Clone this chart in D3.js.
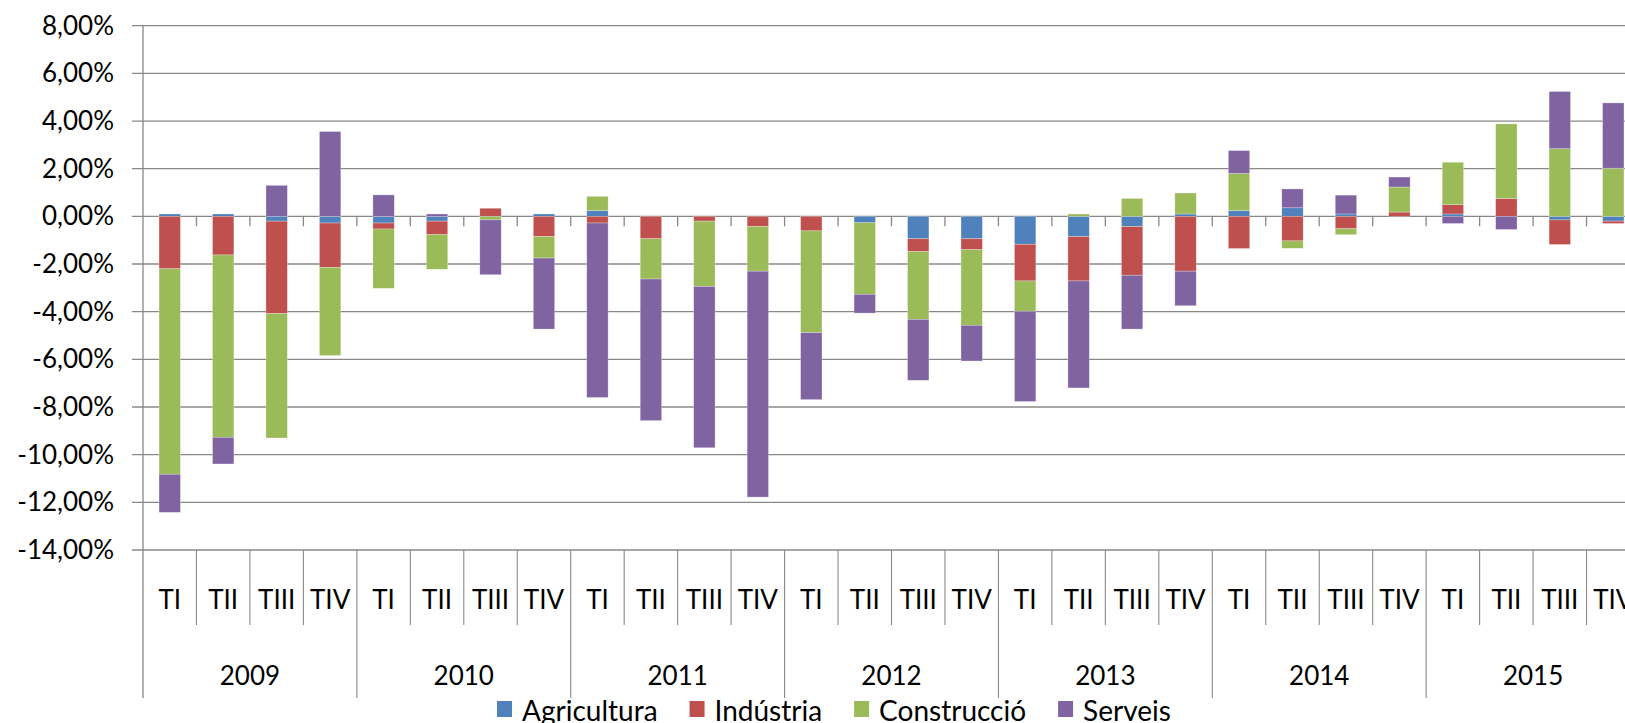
<!DOCTYPE html>
<html>
<head>
<meta charset="utf-8">
<script src="https://cdn.jsdelivr.net/npm/d3@7"></script>
<style>
  body { margin: 0; background: #fff; }
  svg { display: block; }
  text { font-family: Lato, "Open Sans", sans-serif; fill: #000; }
</style>
</head>
<body>
<svg id="chart" width="1625" height="723"></svg>
<script>
// values, % change by quarter
var years = ['2009', '2010', '2011', '2012', '2013', '2014', '2015'];
var quarters = ['TI', 'TII', 'TIII', 'TIV'];
var yTicks = [8, 6, 4, 2, 0, -2, -4, -6, -8, -10, -12, -14];
var seriesNames = ['Agricultura', 'Indústria', 'Construcció', 'Serveis'];
var seriesColors = ['#4F81BD', '#C0504D', '#9BBB59', '#8064A2'];

var agricultura = [0.1, 0.1, -0.2, -0.28,  -0.28, -0.2, 0, 0.1,  0.24, 0, 0, 0,
  0, -0.27, -0.94, -0.94,  -1.17, -0.85, -0.43, 0.1,  0.24, 0.36, 0.1, 0,  0.1, 0, -0.15, -0.2];
var industria = [-2.2, -1.62, -3.88, -1.86,  -0.25, -0.57, 0.34, -0.85,  -0.28, -0.94, -0.2, -0.43,
  -0.61, 0, -0.54, -0.46,  -1.54, -1.86, -2.04, -2.3,  -1.35, -1.03, -0.52, 0.18,  0.39, 0.75, -1.03, -0.1];
var construccio = [-8.62, -7.65, -5.22, -3.7,  -2.49, -1.45, -0.15, -0.9,  0.6, -1.69, -2.74, -1.87,
  -4.27, -3.0, -2.84, -3.17,  -1.27, 0.1, 0.75, 0.88,  1.56, -0.31, -0.25, 1.05,  1.78, 3.13, 2.84, 2.02];
var serveis = [-1.6, -1.12, 1.3, 3.56,  0.9, 0.1, -2.3, -2.98,  -7.32, -5.94, -6.77, -9.48,
  -2.81, -0.79, -2.56, -1.5,  -3.79, -4.49, -2.26, -1.45,  0.96, 0.79, 0.79, 0.42,  -0.3, -0.55, 2.4, 2.74];

var rows = [];
years.forEach(function(yr, yi) {
  quarters.forEach(function(q, qi) {
    var i = yi * 4 + qi;
    rows.push({ i: i, year: yr, q: q,
      'Agricultura': agricultura[i], 'Indústria': industria[i],
      'Construcció': construccio[i], 'Serveis': serveis[i] });
  });
});

var svg = d3.select('#chart');
var plotLeft = 143, plotRight = 1640, plotTop = 25.7, plotBottom = 550;

var x = d3.scaleBand().domain(rows.map(function(d) { return d.i; })).range([plotLeft, plotRight]).padding(0);
var y = d3.scaleLinear().domain([-14, 8]).range([plotBottom, plotTop]);
var w = x.bandwidth();
var gridColor = '#888';
var pct = d3.formatLocale({ decimal: ',', thousands: '.', grouping: [3], currency: ['', ''], minus: '-' }).format('.2f');

// gridlines (with short outer ticks left of the axis)
svg.append('g').selectAll('line').data(yTicks).enter().append('line')
  .attr('x1', plotLeft - 11).attr('x2', plotRight)
  .attr('y1', function(d) { return y(d); }).attr('y2', function(d) { return y(d); })
  .attr('stroke', gridColor).attr('stroke-width', 1.3);

// y labels
var yAxis = d3.axisLeft(y).tickValues(yTicks).tickSize(0).tickPadding(29)
  .tickFormat(function(d) { return pct(d) + '%'; });
var ya = svg.append('g').attr('transform', 'translate(' + plotLeft + ',0)').call(yAxis);
ya.select('.domain').remove();
ya.selectAll('text').style('font-size', '26px').style('font-family', null).attr('fill', '#000');

// bars
var stack = d3.stack().keys(seriesNames).offset(d3.stackOffsetDiverging);
var layers = stack(rows);
var barW = w * 0.4;
svg.append('g').selectAll('g').data(layers).enter().append('g')
  .attr('fill', function(d, k) { return seriesColors[k]; })
  .selectAll('rect').data(function(d) { return d; }).enter().append('rect')
  .attr('x', function(d) { return x(d.data.i) + (w - barW) / 2; })
  .attr('width', barW)
  .attr('y', function(d) { return y(Math.max(d[0], d[1])); })
  .attr('height', function(d) { return Math.abs(y(d[0]) - y(d[1])); })
  .attr('stroke', 'rgba(255,255,255,0.45)').attr('stroke-width', 0.6);

// vertical axis line
svg.append('line').attr('x1', plotLeft).attr('x2', plotLeft).attr('y1', plotTop).attr('y2', 698)
  .attr('stroke', gridColor).attr('stroke-width', 1.3);

// category boundaries: ticks at zero line, separators below the plot
var bounds = d3.range(1, rows.length + 1);
svg.append('g').selectAll('line').data(bounds).enter().append('line')
  .attr('x1', function(b) { return plotLeft + b * w; }).attr('x2', function(b) { return plotLeft + b * w; })
  .attr('y1', y(0)).attr('y2', y(0) + 10)
  .attr('stroke', gridColor).attr('stroke-width', 1.3);
svg.append('g').selectAll('line').data(bounds).enter().append('line')
  .attr('x1', function(b) { return plotLeft + b * w; }).attr('x2', function(b) { return plotLeft + b * w; })
  .attr('y1', plotBottom).attr('y2', function(b) { return b % 4 === 0 ? 698 : 625; })
  .attr('stroke', gridColor).attr('stroke-width', 1.1);

// quarter labels
svg.append('g').selectAll('text').data(rows).enter().append('text')
  .attr('x', function(d) { return x(d.i) + w / 2; }).attr('y', 600)
  .attr('dy', '0.36em').attr('text-anchor', 'middle').style('font-size', '26px')
  .text(function(d) { return d.q; });

// year labels
svg.append('g').selectAll('text').data(years).enter().append('text')
  .attr('x', function(d, yi) { return plotLeft + (yi * 4 + 2) * w; }).attr('y', 676)
  .attr('dy', '0.36em').attr('text-anchor', 'middle').style('font-size', '26px')
  .text(function(d) { return d; });

// legend
var lg = svg.append('g');
var lx = 497;
seriesNames.forEach(function(name, k) {
  lg.append('rect').attr('x', lx).attr('y', 701).attr('width', 15).attr('height', 16)
    .attr('fill', seriesColors[k]);
  var t = lg.append('text').attr('x', lx + 25).attr('y', 711).attr('dy', '0.36em')
    .style('font-size', '28px').text(name);
  lx += 25 + t.node().getComputedTextLength() + 32;
});
</script>
</body>
</html>
